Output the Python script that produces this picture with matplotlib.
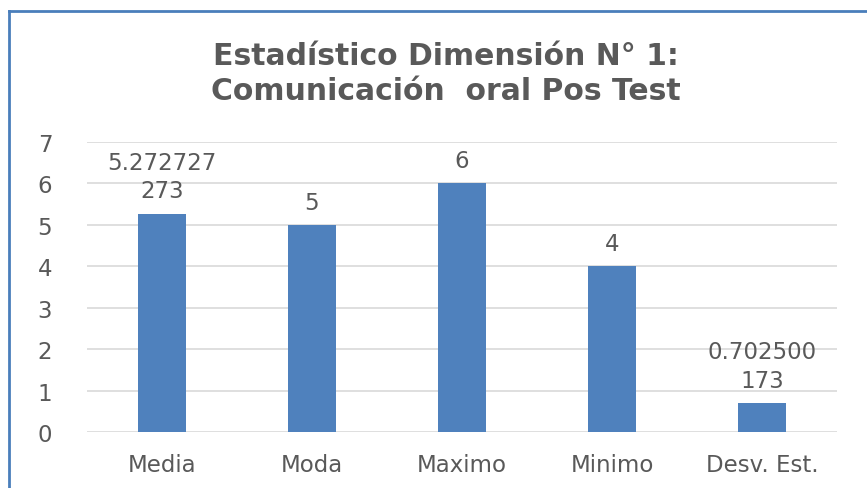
import matplotlib.pyplot as plt
from matplotlib.lines import Line2D

categories = ["Media", "Moda", "Maximo", "Minimo", "Desv. Est."]
values = [5.272727273, 5, 6, 4, 0.702500173]
value_labels = ["5.272727\n273", "5", "6", "4", "0.702500\n173"]

W, H = 867, 489
fig = plt.figure(figsize=(W / 100, H / 100), dpi=100)
ax = fig.add_axes([87 / W, 1 - 433 / H, 750 / W, 290 / H])

grey = "#595959"
fs = 16.5
x = range(len(categories))
bars = ax.bar(x, values, width=0.32, color="#4F81BD", zorder=3)
for b, lab in zip(bars, value_labels):
    ax.annotate(lab, (b.get_x() + b.get_width() / 2, b.get_height()),
                xytext=(0, 8), textcoords="offset points", ha="center", va="bottom",
                fontsize=fs, color=grey, linespacing=1.3, zorder=4)

ax.set_xlim(-0.5, len(categories) - 0.5)
ax.set_ylim(0, 7)
ax.set_yticks(range(8))
ax.set_xticks(list(x))
ax.set_xticklabels(categories)
ax.yaxis.grid(True, color="#D9D9D9", linewidth=1.2, zorder=0)
ax.tick_params(axis="both", length=0, labelsize=fs, labelcolor=grey)
ax.tick_params(axis="y", pad=25)
ax.tick_params(axis="x", pad=15)
for s in ax.spines.values():
    s.set_visible(False)

fig.text(446 / W, 1 - 74 / H, "Estadístico Dimensión N° 1:\nComunicación  oral Pos Test",
         ha="center", va="center", fontsize=21.5, fontweight="bold", color=grey,
         linespacing=1.3)

# chart border (only left and top visible)
fig.add_artist(Line2D([9 / W, 9 / W], [0, 1 - 12 / H], color="#4A7EBB", linewidth=2, transform=fig.transFigure))
fig.add_artist(Line2D([9 / W, 1], [1 - 12 / H, 1 - 12 / H], color="#4A7EBB", linewidth=2, transform=fig.transFigure))

fig.savefig("out.png", dpi=100)
